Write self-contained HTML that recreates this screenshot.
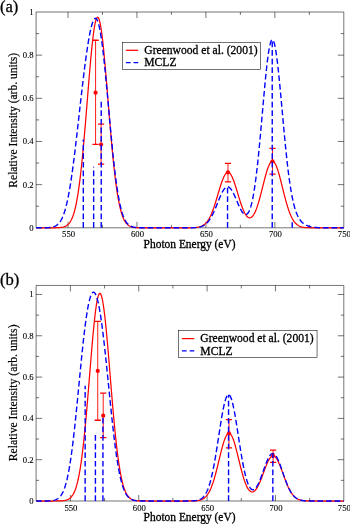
<!DOCTYPE html>
<html><head><meta charset="utf-8"><title>Relative Intensity vs Photon Energy</title>
<style>
html,body{margin:0;padding:0;background:#fff;}
body{width:350px;height:524px;overflow:hidden;}
svg{display:block;will-change:transform;}
text{stroke:#000;stroke-width:0.3px;}
text.t{stroke-width:0.1px;}
text.r{stroke-width:0.2px;}
svg{font-family:"Liberation Serif","DejaVu Serif",serif;fill:#000;}
</style></head><body>
<svg width="350" height="524" viewBox="0 0 350 524">
<rect x="0" y="0" width="350" height="524" fill="#fff"/>
<g id="panel-a">
<clipPath id="ca"><rect x="36.1" y="10" width="308.7" height="219.3"/></clipPath>
<path d="M36.1 12H343.8V227.8H36.1ZM68 227.8v-6M68 12v6M102.47 227.8v-3M102.47 12v3M136.95 227.8v-6M136.95 12v6M171.43 227.8v-3M171.43 12v3M205.9 227.8v-6M205.9 12v6M240.38 227.8v-3M240.38 12v3M274.85 227.8v-6M274.85 12v6M309.32 227.8v-3M309.32 12v3M36.1 206.22h3M343.8 206.22h-3M36.1 184.64h6M343.8 184.64h-6M36.1 163.06h3M343.8 163.06h-3M36.1 141.48h6M343.8 141.48h-6M36.1 119.9h3M343.8 119.9h-3M36.1 98.32h6M343.8 98.32h-6M36.1 76.74h3M343.8 76.74h-3M36.1 55.16h6M343.8 55.16h-6M36.1 33.58h3M343.8 33.58h-3" fill="none" stroke="#000" stroke-width="0.55"/>
<g clip-path="url(#ca)">
<polyline points="36.1,227.8 36.87,227.8 37.64,227.8 38.41,227.8 39.18,227.8 39.95,227.8 40.72,227.8 41.48,227.8 42.25,227.8 43.02,227.8 43.79,227.8 44.56,227.8 45.33,227.8 46.1,227.8 46.87,227.8 47.64,227.8 48.41,227.8 49.18,227.8 49.95,227.8 50.72,227.79 51.48,227.79 52.25,227.79 53.02,227.78 53.79,227.78 54.56,227.77 55.33,227.76 56.1,227.74 56.87,227.73 57.64,227.7 58.41,227.66 59.18,227.62 59.95,227.56 60.72,227.48 61.49,227.39 62.25,227.26 63.02,227.1 63.79,226.9 64.56,226.65 65.33,226.33 66.1,225.94 66.87,225.46 67.64,224.87 68.41,224.16 69.18,223.3 69.95,222.27 70.72,221.04 71.49,219.58 72.25,217.86 73.02,215.86 73.79,213.54 74.56,210.86 75.33,207.8 76.1,204.32 76.87,200.38 77.64,195.98 78.41,191.07 79.18,185.65 79.95,179.7 80.72,173.23 81.49,166.24 82.25,158.75 83.02,150.78 83.79,142.38 84.56,133.59 85.33,124.49 86.1,115.15 86.87,105.65 87.64,96.1 88.41,86.6 89.18,77.25 89.95,68.19 90.72,59.53 91.49,51.39 92.26,43.88 93.02,37.12 93.79,31.21 94.56,26.25 95.33,22.31 96.1,19.45 96.87,17.72 97.64,17.14 98.41,17.74 99.18,19.48 99.95,22.36 100.72,26.31 101.49,31.27 102.26,37.17 103.02,43.91 103.79,51.39 104.56,59.49 105.33,68.11 106.1,77.11 106.87,86.39 107.64,95.83 108.41,105.32 109.18,114.75 109.95,124.02 110.72,133.06 111.49,141.79 112.26,150.14 113.02,158.07 113.79,165.54 114.56,172.51 115.33,178.97 116.1,184.91 116.87,190.34 117.64,195.27 118.41,199.7 119.18,203.66 119.95,207.18 120.72,210.28 121.49,213 122.26,215.37 123.03,217.42 123.79,219.17 124.56,220.67 125.33,221.95 126.1,223.02 126.87,223.92 127.64,224.66 128.41,225.28 129.18,225.79 129.95,226.2 130.72,226.54 131.49,226.81 132.26,227.03 133.03,227.2 133.79,227.34 134.56,227.44 135.33,227.53 136.1,227.59 136.87,227.64 137.64,227.68 138.41,227.71 139.18,227.74 139.95,227.75 140.72,227.77 141.49,227.77 142.26,227.78 143.03,227.79 143.79,227.79 144.56,227.79 145.33,227.8 146.1,227.8 146.87,227.8 147.64,227.8 148.41,227.8 149.18,227.8 149.95,227.8 150.72,227.8 151.49,227.8 152.26,227.8 153.03,227.8 153.8,227.8 154.56,227.8 155.33,227.8 156.1,227.8 156.87,227.8 157.64,227.8 158.41,227.8 159.18,227.8 159.95,227.8 160.72,227.8 161.49,227.8 162.26,227.8 163.03,227.8 163.8,227.8 164.56,227.8 165.33,227.8 166.1,227.8 166.87,227.8 167.64,227.8 168.41,227.8 169.18,227.8 169.95,227.8 170.72,227.8 171.49,227.8 172.26,227.8 173.03,227.8 173.8,227.8 174.56,227.8 175.33,227.8 176.1,227.8 176.87,227.8 177.64,227.8 178.41,227.8 179.18,227.8 179.95,227.8 180.72,227.8 181.49,227.8 182.26,227.8 183.03,227.8 183.8,227.8 184.57,227.8 185.33,227.79 186.1,227.79 186.87,227.79 187.64,227.78 188.41,227.78 189.18,227.77 189.95,227.76 190.72,227.75 191.49,227.73 192.26,227.71 193.03,227.68 193.8,227.65 194.57,227.6 195.33,227.54 196.1,227.47 196.87,227.38 197.64,227.26 198.41,227.12 199.18,226.95 199.95,226.74 200.72,226.49 201.49,226.18 202.26,225.82 203.03,225.39 203.8,224.89 204.57,224.3 205.33,223.61 206.1,222.82 206.87,221.92 207.64,220.89 208.41,219.74 209.18,218.45 209.95,217.01 210.72,215.43 211.49,213.7 212.26,211.82 213.03,209.8 213.8,207.65 214.57,205.38 215.34,202.99 216.1,200.52 216.87,197.98 217.64,195.4 218.41,192.8 219.18,190.22 219.95,187.69 220.72,185.24 221.49,182.91 222.26,180.74 223.03,178.75 223.8,176.99 224.57,175.48 225.34,174.24 226.1,173.3 226.87,172.67 227.64,172.37 228.41,172.39 229.18,172.75 229.95,173.43 230.72,174.41 231.49,175.7 232.26,177.25 233.03,179.04 233.8,181.05 234.57,183.24 235.34,185.58 236.1,188.02 236.87,190.53 237.64,193.08 238.41,195.64 239.18,198.16 239.95,200.62 240.72,202.99 241.49,205.24 242.26,207.36 243.03,209.32 243.8,211.1 244.57,212.7 245.34,214.1 246.11,215.28 246.87,216.25 247.64,217 248.41,217.52 249.18,217.8 249.95,217.86 250.72,217.67 251.49,217.24 252.26,216.57 253.03,215.66 253.8,214.52 254.57,213.13 255.34,211.51 256.11,209.67 256.87,207.6 257.64,205.34 258.41,202.88 259.18,200.25 259.95,197.47 260.72,194.57 261.49,191.57 262.26,188.52 263.03,185.44 263.8,182.38 264.57,179.37 265.34,176.47 266.11,173.71 266.87,171.13 267.64,168.78 268.41,166.7 269.18,164.92 269.95,163.48 270.72,162.39 271.49,161.67 272.26,161.35 273.03,161.42 273.8,161.89 274.57,162.74 275.34,163.97 276.11,165.54 276.88,167.44 277.64,169.62 278.41,172.07 279.18,174.72 279.95,177.55 280.72,180.52 281.49,183.57 282.26,186.67 283.03,189.78 283.8,192.87 284.57,195.9 285.34,198.83 286.11,201.66 286.88,204.35 287.64,206.89 288.41,209.26 289.18,211.46 289.95,213.49 290.72,215.34 291.49,217.01 292.26,218.52 293.03,219.86 293.8,221.05 294.57,222.1 295.34,223.01 296.11,223.8 296.88,224.48 297.65,225.06 298.41,225.55 299.18,225.97 299.95,226.31 300.72,226.6 301.49,226.84 302.26,227.04 303.03,227.2 303.8,227.32 304.57,227.43 305.34,227.51 306.11,227.58 306.88,227.63 307.65,227.67 308.41,227.7 309.18,227.72 309.95,227.74 310.72,227.76 311.49,227.77 312.26,227.78 313.03,227.78 313.8,227.79 314.57,227.79 315.34,227.79 316.11,227.8 316.88,227.8 317.65,227.8 318.41,227.8 319.18,227.8 319.95,227.8 320.72,227.8 321.49,227.8 322.26,227.8 323.03,227.8 323.8,227.8 324.57,227.8 325.34,227.8 326.11,227.8 326.88,227.8 327.65,227.8 328.42,227.8 329.18,227.8 329.95,227.8 330.72,227.8 331.49,227.8 332.26,227.8 333.03,227.8 333.8,227.8 334.57,227.8 335.34,227.8 336.11,227.8 336.88,227.8 337.65,227.8 338.42,227.8 339.18,227.8 339.95,227.8 340.72,227.8 341.49,227.8 342.26,227.8 343.03,227.8 343.8,227.8" fill="none" stroke="#f00" stroke-width="1.25" stroke-linejoin="round"/>
<polyline points="36.1,227.8 36.87,227.8 37.64,227.8 38.41,227.8 39.18,227.8 39.95,227.79 40.72,227.79 41.48,227.79 42.25,227.78 43.02,227.78 43.79,227.77 44.56,227.75 45.33,227.74 46.1,227.72 46.87,227.69 47.64,227.65 48.41,227.61 49.18,227.55 49.95,227.47 50.72,227.38 51.48,227.26 52.25,227.1 53.02,226.92 53.79,226.68 54.56,226.4 55.33,226.05 56.1,225.63 56.87,225.12 57.64,224.51 58.41,223.79 59.18,222.93 59.95,221.93 60.72,220.76 61.49,219.4 62.25,217.84 63.02,216.06 63.79,214.03 64.56,211.74 65.33,209.18 66.1,206.32 66.87,203.15 67.64,199.67 68.41,195.86 69.18,191.73 69.95,187.28 70.72,182.5 71.49,177.41 72.25,172.03 73.02,166.36 73.79,160.44 74.56,154.29 75.33,147.93 76.1,141.4 76.87,134.74 77.64,127.97 78.41,121.14 79.18,114.28 79.95,107.42 80.72,100.61 81.49,93.87 82.25,87.23 83.02,80.74 83.79,74.41 84.56,68.27 85.33,62.36 86.1,56.69 86.87,51.29 87.64,46.2 88.41,41.43 89.18,37.01 89.95,32.98 90.72,29.37 91.49,26.2 92.26,23.52 93.02,21.36 93.79,19.74 94.56,18.72 95.33,18.31 96.1,18.54 96.87,19.44 97.64,21.03 98.41,23.32 99.18,26.31 99.95,29.99 100.72,34.36 101.49,39.39 102.26,45.04 103.02,51.27 103.79,58.03 104.56,65.26 105.33,72.89 106.1,80.85 106.87,89.06 107.64,97.45 108.41,105.93 109.18,114.43 109.95,122.87 110.72,131.18 111.49,139.29 112.26,147.14 113.02,154.69 113.79,161.88 114.56,168.69 115.33,175.08 116.1,181.04 116.87,186.55 117.64,191.61 118.41,196.23 119.18,200.41 119.95,204.17 120.72,207.53 121.49,210.51 122.26,213.13 123.03,215.43 123.79,217.43 124.56,219.15 125.33,220.63 126.1,221.89 126.87,222.96 127.64,223.86 128.41,224.61 129.18,225.23 129.95,225.74 130.72,226.16 131.49,226.5 132.26,226.78 133.03,227 133.79,227.18 134.56,227.32 135.33,227.43 136.1,227.52 136.87,227.59 137.64,227.64 138.41,227.68 139.18,227.71 139.95,227.73 140.72,227.75 141.49,227.76 142.26,227.77 143.03,227.78 143.79,227.79 144.56,227.79 145.33,227.79 146.1,227.8 146.87,227.8 147.64,227.8 148.41,227.8 149.18,227.8 149.95,227.8 150.72,227.8 151.49,227.8 152.26,227.8 153.03,227.8 153.8,227.8 154.56,227.8 155.33,227.8 156.1,227.8 156.87,227.8 157.64,227.8 158.41,227.8 159.18,227.8 159.95,227.8 160.72,227.8 161.49,227.8 162.26,227.8 163.03,227.8 163.8,227.8 164.56,227.8 165.33,227.8 166.1,227.8 166.87,227.8 167.64,227.8 168.41,227.8 169.18,227.8 169.95,227.8 170.72,227.8 171.49,227.8 172.26,227.8 173.03,227.8 173.8,227.8 174.56,227.8 175.33,227.8 176.1,227.8 176.87,227.8 177.64,227.8 178.41,227.8 179.18,227.8 179.95,227.8 180.72,227.8 181.49,227.8 182.26,227.8 183.03,227.8 183.8,227.8 184.57,227.8 185.33,227.79 186.1,227.79 186.87,227.79 187.64,227.79 188.41,227.78 189.18,227.78 189.95,227.77 190.72,227.76 191.49,227.74 192.26,227.72 193.03,227.7 193.8,227.67 194.57,227.63 195.33,227.58 196.1,227.52 196.87,227.44 197.64,227.35 198.41,227.23 199.18,227.09 199.95,226.92 200.72,226.71 201.49,226.47 202.26,226.17 203.03,225.83 203.8,225.42 204.57,224.95 205.33,224.4 206.1,223.77 206.87,223.06 207.64,222.25 208.41,221.34 209.18,220.33 209.95,219.21 210.72,217.98 211.49,216.64 212.26,215.2 213.03,213.65 213.8,212.01 214.57,210.28 215.34,208.48 216.1,206.63 216.87,204.73 217.64,202.81 218.41,200.89 219.18,199 219.95,197.16 220.72,195.4 221.49,193.73 222.26,192.2 223.03,190.82 223.8,189.61 224.57,188.6 225.34,187.8 226.1,187.22 226.87,186.89 227.64,186.79 228.41,186.94 229.18,187.33 229.95,187.95 230.72,188.79 231.49,189.84 232.26,191.08 233.03,192.48 233.8,194.02 234.57,195.67 235.34,197.41 236.1,199.2 236.87,201.01 237.64,202.83 238.41,204.61 239.18,206.32 239.95,207.95 240.72,209.46 241.49,210.82 242.26,212.02 243.03,213.02 243.8,213.8 244.57,214.34 245.34,214.61 246.11,214.59 246.87,214.26 247.64,213.58 248.41,212.53 249.18,211.09 249.95,209.22 250.72,206.91 251.49,204.14 252.26,200.87 253.03,197.09 253.8,192.78 254.57,187.95 255.34,182.57 256.11,176.66 256.87,170.24 257.64,163.32 258.41,155.95 259.18,148.16 259.95,140.01 260.72,131.58 261.49,122.95 262.26,114.2 263.03,105.45 263.8,96.79 264.57,88.35 265.34,80.24 266.11,72.57 266.87,65.48 267.64,59.06 268.41,53.43 269.18,48.67 269.95,44.86 270.72,42.08 271.49,40.36 272.26,39.73 273.03,40.21 273.8,41.78 274.57,44.41 275.34,48.06 276.11,52.65 276.88,58.1 277.64,64.32 278.41,71.21 279.18,78.65 279.95,86.53 280.72,94.73 281.49,103.14 282.26,111.64 283.03,120.13 283.8,128.52 284.57,136.72 285.34,144.65 286.11,152.25 286.88,159.47 287.64,166.26 288.41,172.62 289.18,178.51 289.95,183.93 290.72,188.88 291.49,193.38 292.26,197.44 293.03,201.09 293.8,204.34 294.57,207.23 295.34,209.79 296.11,212.04 296.88,214.02 297.65,215.76 298.41,217.28 299.18,218.61 299.95,219.77 300.72,220.78 301.49,221.67 302.26,222.44 303.03,223.12 303.8,223.72 304.57,224.24 305.34,224.7 306.11,225.1 306.88,225.46 307.65,225.77 308.41,226.05 309.18,226.29 309.95,226.51 310.72,226.7 311.49,226.86 312.26,227 313.03,227.13 313.8,227.23 314.57,227.33 315.34,227.41 316.11,227.47 316.88,227.53 317.65,227.58 318.41,227.62 319.18,227.65 319.95,227.68 320.72,227.71 321.49,227.72 322.26,227.74 323.03,227.75 323.8,227.76 324.57,227.77 325.34,227.78 326.11,227.78 326.88,227.79 327.65,227.79 328.42,227.79 329.18,227.79 329.95,227.8 330.72,227.8 331.49,227.8 332.26,227.8 333.03,227.8 333.8,227.8 334.57,227.8 335.34,227.8 336.11,227.8 336.88,227.8 337.65,227.8 338.42,227.8 339.18,227.8 339.95,227.8 340.72,227.8 341.49,227.8 342.26,227.8 343.03,227.8 343.8,227.8" fill="none" stroke="#00f" stroke-width="1.4" stroke-dasharray="5.7 2.9" stroke-linejoin="round"/>
</g>
<path d="M95.58 40.27V144.29" stroke="#f00" stroke-width="0.9" fill="none"/>
<path d="M92.48 40.27H98.68M92.48 144.29H98.68" stroke="#f00" stroke-width="1.3" fill="none"/>
<path d="M101.1 124.22V164.05" stroke="#f00" stroke-width="0.9" fill="none"/>
<path d="M98 124.22H104.2M98 164.05H104.2" stroke="#f00" stroke-width="1.3" fill="none"/>
<path d="M227.96 163.28V181.83" stroke="#f00" stroke-width="0.9" fill="none"/>
<path d="M224.86 163.28H231.06M224.86 181.83H231.06" stroke="#f00" stroke-width="1.3" fill="none"/>
<path d="M272.51 148.39V174.07" stroke="#f00" stroke-width="0.9" fill="none"/>
<path d="M269.41 148.39H275.61M269.41 174.07H275.61" stroke="#f00" stroke-width="1.3" fill="none"/>
<circle cx="95.58" cy="92.71" r="2.1" fill="#f00"/>
<circle cx="101.1" cy="144.5" r="2.1" fill="#f00"/>
<circle cx="227.96" cy="172.34" r="2.1" fill="#f00"/>
<circle cx="272.51" cy="161.33" r="2.1" fill="#f00"/>
<line x1="83.31" y1="227.8" x2="83.31" y2="139.54" stroke="#00f" stroke-width="1.4" stroke-dasharray="5.7 2.9"/>
<line x1="93.65" y1="227.8" x2="93.65" y2="166.73" stroke="#00f" stroke-width="1.4" stroke-dasharray="5.7 2.9"/>
<line x1="101.23" y1="227.8" x2="101.23" y2="101.56" stroke="#00f" stroke-width="1.4" stroke-dasharray="5.7 2.9"/>
<line x1="227.55" y1="227.8" x2="227.55" y2="186.8" stroke="#00f" stroke-width="1.4" stroke-dasharray="5.7 2.9"/>
<line x1="272.23" y1="227.8" x2="272.23" y2="40.49" stroke="#00f" stroke-width="1.4" stroke-dasharray="5.7 2.9"/>
<line x1="292.23" y1="227.8" x2="292.23" y2="222.19" stroke="#00f" stroke-width="1.4" stroke-dasharray="5.7 2.9"/>
<text transform="translate(68.55 237.1) scale(0.966 1)" font-size="9" text-anchor="middle" class="t">550</text>
<text transform="translate(137.5 237.1) scale(0.966 1)" font-size="9" text-anchor="middle" class="t">600</text>
<text transform="translate(206.45 237.1) scale(0.966 1)" font-size="9" text-anchor="middle" class="t">650</text>
<text transform="translate(275.4 237.1) scale(0.966 1)" font-size="9" text-anchor="middle" class="t">700</text>
<text transform="translate(344.35 237.1) scale(0.966 1)" font-size="9" text-anchor="middle" class="t">750</text>
<text transform="translate(33.7 230.8) scale(0.966 1)" font-size="9" text-anchor="end" class="t">0</text>
<text transform="translate(33.7 187.64) scale(0.966 1)" font-size="9" text-anchor="end" class="t">0.2</text>
<text transform="translate(33.7 144.48) scale(0.966 1)" font-size="9" text-anchor="end" class="t">0.4</text>
<text transform="translate(33.7 101.32) scale(0.966 1)" font-size="9" text-anchor="end" class="t">0.6</text>
<text transform="translate(33.7 58.16) scale(0.966 1)" font-size="9" text-anchor="end" class="t">0.8</text>
<text transform="translate(33.7 15) scale(0.966 1)" font-size="9" text-anchor="end" class="t">1</text>
<text transform="translate(143.6 248.2) scale(0.979 1)" font-size="11.7">Photon Energy (eV)</text>
<text transform="translate(17.25 120.25) rotate(-90) scale(0.979 1)" font-size="11.76" text-anchor="middle" class="r">Relative Intensity (arb. units)</text>
<rect x="122.4" y="42.3" width="138.3" height="27" fill="#fff" stroke="#000" stroke-width="0.55"/>
<line x1="125.9" y1="50.3" x2="138.2" y2="50.3" stroke="#f00" stroke-width="1.25"/>
<line x1="125.9" y1="62.6" x2="138.2" y2="62.6" stroke="#00f" stroke-width="1.4" stroke-dasharray="4.7 3.0"/>
<text transform="translate(144.3 53.9) scale(0.979 1)" font-size="11.85">Greenwood et al. (2001)</text>
<text transform="translate(144.3 66.25) scale(0.979 1)" font-size="11.85">MCLZ</text>
<text transform="translate(-0.1 12.3) scale(0.968 1)" font-size="17.2">(a)</text>
</g>
<g id="panel-b">
<clipPath id="cb"><rect x="36.1" y="283.45" width="308.7" height="219.05"/></clipPath>
<path d="M36.1 285.45H343.8V501H36.1ZM70.4 501v-6M70.4 285.45v6M104.57 501v-3M104.57 285.45v3M138.75 501v-6M138.75 285.45v6M172.92 501v-3M172.92 285.45v3M207.09 501v-6M207.09 285.45v6M241.26 501v-3M241.26 285.45v3M275.44 501v-6M275.44 285.45v6M309.61 501v-3M309.61 285.45v3M36.1 480.35h3M343.8 480.35h-3M36.1 459.69h6M343.8 459.69h-6M36.1 439.04h3M343.8 439.04h-3M36.1 418.38h6M343.8 418.38h-6M36.1 397.73h3M343.8 397.73h-3M36.1 377.08h6M343.8 377.08h-6M36.1 356.42h3M343.8 356.42h-3M36.1 335.77h6M343.8 335.77h-6M36.1 315.11h3M343.8 315.11h-3M36.1 294.46h6M343.8 294.46h-6" fill="none" stroke="#000" stroke-width="0.55"/>
<g clip-path="url(#cb)">
<polyline points="36.1,501 36.87,501 37.64,501 38.41,501 39.18,501 39.95,501 40.72,501 41.48,501 42.25,501 43.02,501 43.79,501 44.56,501 45.33,501 46.1,501 46.87,501 47.64,501 48.41,501 49.18,501 49.95,501 50.72,501 51.49,501 52.25,501 53.02,501 53.79,500.99 54.56,500.99 55.33,500.99 56.1,500.98 56.87,500.97 57.64,500.96 58.41,500.95 59.18,500.93 59.95,500.91 60.72,500.88 61.49,500.84 62.25,500.78 63.02,500.71 63.79,500.62 64.56,500.5 65.33,500.35 66.1,500.16 66.87,499.93 67.64,499.63 68.41,499.26 69.18,498.8 69.95,498.24 70.72,497.56 71.49,496.73 72.25,495.74 73.02,494.55 73.79,493.14 74.56,491.48 75.33,489.54 76.1,487.28 76.87,484.67 77.64,481.67 78.41,478.26 79.18,474.41 79.95,470.08 80.72,465.25 81.49,459.91 82.25,454.04 83.02,447.65 83.79,440.73 84.56,433.32 85.33,425.42 86.1,417.09 86.87,408.37 87.64,399.33 88.41,390.05 89.18,380.62 89.95,371.13 90.72,361.68 91.49,352.4 92.26,343.41 93.02,334.81 93.79,326.74 94.56,319.31 95.33,312.64 96.1,306.83 96.87,301.96 97.64,298.13 98.41,295.38 99.18,293.77 99.95,293.32 100.72,294.04 101.49,295.92 102.26,298.92 103.02,302.99 103.79,308.06 104.56,314.06 105.33,320.89 106.1,328.44 106.87,336.6 107.64,345.24 108.41,354.26 109.18,363.53 109.95,372.94 110.72,382.37 111.49,391.72 112.26,400.89 113.02,409.81 113.79,418.4 114.56,426.6 115.33,434.37 116.1,441.65 116.87,448.44 117.64,454.71 118.41,460.47 119.18,465.71 119.95,470.44 120.72,474.69 121.49,478.48 122.26,481.83 123.03,484.77 123.79,487.34 124.56,489.57 125.33,491.49 126.1,493.13 126.87,494.53 127.64,495.7 128.41,496.69 129.18,497.52 129.95,498.2 130.72,498.76 131.49,499.22 132.26,499.59 133.03,499.9 133.79,500.14 134.56,500.33 135.33,500.48 136.1,500.6 136.87,500.7 137.64,500.77 138.41,500.83 139.18,500.87 139.95,500.9 140.72,500.93 141.49,500.95 142.26,500.96 143.03,500.97 143.79,500.98 144.56,500.99 145.33,500.99 146.1,500.99 146.87,500.99 147.64,501 148.41,501 149.18,501 149.95,501 150.72,501 151.49,501 152.26,501 153.03,501 153.8,501 154.56,501 155.33,501 156.1,501 156.87,501 157.64,501 158.41,501 159.18,501 159.95,501 160.72,501 161.49,501 162.26,501 163.03,501 163.8,501 164.56,501 165.33,501 166.1,501 166.87,501 167.64,501 168.41,501 169.18,501 169.95,501 170.72,501 171.49,501 172.26,501 173.03,501 173.8,501 174.56,501 175.33,501 176.1,501 176.87,501 177.64,501 178.41,501 179.18,501 179.95,501 180.72,501 181.49,501 182.26,501 183.03,501 183.8,501 184.57,501 185.33,501 186.1,500.99 186.87,500.99 187.64,500.99 188.41,500.99 189.18,500.98 189.95,500.97 190.72,500.96 191.49,500.95 192.26,500.93 193.03,500.91 193.8,500.88 194.57,500.84 195.33,500.8 196.1,500.73 196.87,500.66 197.64,500.56 198.41,500.44 199.18,500.29 199.95,500.1 200.72,499.87 201.49,499.59 202.26,499.26 203.03,498.86 203.8,498.38 204.57,497.81 205.33,497.14 206.1,496.37 206.87,495.47 207.64,494.43 208.41,493.25 209.18,491.91 209.95,490.41 210.72,488.73 211.49,486.87 212.26,484.83 213.03,482.6 213.8,480.2 214.57,477.62 215.34,474.88 216.1,472 216.87,469 217.64,465.9 218.41,462.74 219.18,459.54 219.95,456.35 220.72,453.2 221.49,450.14 222.26,447.21 223.03,444.46 223.8,441.92 224.57,439.65 225.34,437.67 226.1,436.03 226.87,434.75 227.64,433.85 228.41,433.36 229.18,433.27 229.95,433.59 230.72,434.32 231.49,435.44 232.26,436.93 233.03,438.76 233.8,440.91 234.57,443.33 235.34,445.99 236.1,448.83 236.87,451.83 237.64,454.93 238.41,458.09 239.18,461.26 239.95,464.41 240.72,467.49 241.49,470.48 242.26,473.34 243.03,476.04 243.8,478.58 244.57,480.91 245.34,483.04 246.11,484.96 246.87,486.64 247.64,488.1 248.41,489.32 249.18,490.32 249.95,491.07 250.72,491.6 251.49,491.91 252.26,491.99 253.03,491.85 253.8,491.5 254.57,490.94 255.34,490.19 256.11,489.24 256.87,488.1 257.64,486.8 258.41,485.33 259.18,483.71 259.95,481.96 260.72,480.1 261.49,478.15 262.26,476.12 263.03,474.05 263.8,471.96 264.57,469.88 265.34,467.84 266.11,465.87 266.87,464 267.64,462.26 268.41,460.68 269.18,459.29 269.95,458.11 270.72,457.17 271.49,456.47 272.26,456.03 273.03,455.87 273.8,455.98 274.57,456.36 275.34,457 276.11,457.9 276.88,459.04 277.64,460.39 278.41,461.94 279.18,463.65 279.95,465.51 280.72,467.48 281.49,469.53 282.26,471.64 283.03,473.77 283.8,475.89 284.57,478 285.34,480.05 286.11,482.04 286.88,483.94 287.64,485.74 288.41,487.44 289.18,489.02 289.95,490.48 290.72,491.82 291.49,493.04 292.26,494.13 293.03,495.11 293.8,495.99 294.57,496.76 295.34,497.43 296.11,498.01 296.88,498.52 297.64,498.95 298.41,499.31 299.18,499.62 299.95,499.88 300.72,500.1 301.49,500.28 302.26,500.42 303.03,500.54 303.8,500.64 304.57,500.72 305.34,500.78 306.11,500.83 306.88,500.87 307.65,500.9 308.41,500.92 309.18,500.94 309.95,500.96 310.72,500.97 311.49,500.98 312.26,500.98 313.03,500.99 313.8,500.99 314.57,500.99 315.34,501 316.11,501 316.88,501 317.65,501 318.41,501 319.18,501 319.95,501 320.72,501 321.49,501 322.26,501 323.03,501 323.8,501 324.57,501 325.34,501 326.11,501 326.88,501 327.65,501 328.41,501 329.18,501 329.95,501 330.72,501 331.49,501 332.26,501 333.03,501 333.8,501 334.57,501 335.34,501 336.11,501 336.88,501 337.65,501 338.42,501 339.18,501 339.95,501 340.72,501 341.49,501 342.26,501 343.03,501 343.8,501" fill="none" stroke="#f00" stroke-width="1.25" stroke-linejoin="round"/>
<polyline points="36.1,501 36.87,501 37.64,501 38.41,501 39.18,501 39.95,501 40.72,501 41.48,500.99 42.25,500.99 43.02,500.99 43.79,500.98 44.56,500.98 45.33,500.97 46.1,500.96 46.87,500.94 47.64,500.93 48.41,500.9 49.18,500.87 49.95,500.82 50.72,500.76 51.49,500.69 52.25,500.59 53.02,500.47 53.79,500.32 54.56,500.13 55.33,499.89 56.1,499.59 56.87,499.22 57.64,498.77 58.41,498.22 59.18,497.56 59.95,496.77 60.72,495.83 61.49,494.71 62.25,493.4 63.02,491.86 63.79,490.08 64.56,488.03 65.33,485.68 66.1,483.01 66.87,480 67.64,476.62 68.41,472.86 69.18,468.7 69.95,464.13 70.72,459.15 71.49,453.77 72.25,447.97 73.02,441.79 73.79,435.24 74.56,428.35 75.33,421.16 76.1,413.7 76.87,406.03 77.64,398.2 78.41,390.26 79.18,382.29 79.95,374.33 80.72,366.47 81.49,358.75 82.25,351.24 83.02,344 83.79,337.08 84.56,330.54 85.33,324.42 86.1,318.77 86.87,313.6 87.64,308.96 88.41,304.86 89.18,301.32 89.95,298.35 90.72,295.96 91.49,294.15 92.26,292.92 93.02,292.28 93.79,292.22 94.56,292.73 95.33,293.82 96.1,295.46 96.87,297.66 97.64,300.41 98.41,303.69 99.18,307.49 99.95,311.79 100.72,316.58 101.49,321.83 102.26,327.52 103.02,333.6 103.79,340.05 104.56,346.83 105.33,353.89 106.1,361.17 106.87,368.64 107.64,376.23 108.41,383.89 109.18,391.56 109.95,399.2 110.72,406.73 111.49,414.12 112.26,421.31 113.02,428.26 113.79,434.94 114.56,441.3 115.33,447.32 116.1,452.99 116.87,458.28 117.64,463.19 118.41,467.71 119.18,471.85 119.95,475.61 120.72,479.01 121.49,482.05 122.26,484.77 123.03,487.17 123.79,489.29 124.56,491.13 125.33,492.74 126.1,494.12 126.87,495.3 127.64,496.31 128.41,497.16 129.18,497.87 129.95,498.47 130.72,498.96 131.49,499.37 132.26,499.7 133.03,499.98 133.79,500.2 134.56,500.37 135.33,500.51 136.1,500.62 136.87,500.71 137.64,500.78 138.41,500.83 139.18,500.87 139.95,500.91 140.72,500.93 141.49,500.95 142.26,500.96 143.03,500.97 143.79,500.98 144.56,500.99 145.33,500.99 146.1,500.99 146.87,500.99 147.64,501 148.41,501 149.18,501 149.95,501 150.72,501 151.49,501 152.26,501 153.03,501 153.8,501 154.56,501 155.33,501 156.1,501 156.87,501 157.64,501 158.41,501 159.18,501 159.95,501 160.72,501 161.49,501 162.26,501 163.03,501 163.8,501 164.56,501 165.33,501 166.1,501 166.87,501 167.64,501 168.41,501 169.18,501 169.95,501 170.72,501 171.49,501 172.26,501 173.03,501 173.8,501 174.56,501 175.33,501 176.1,501 176.87,501 177.64,501 178.41,501 179.18,501 179.95,501 180.72,501 181.49,501 182.26,501 183.03,501 183.8,501 184.57,500.99 185.33,500.99 186.1,500.99 186.87,500.99 187.64,500.98 188.41,500.97 189.18,500.96 189.95,500.95 190.72,500.93 191.49,500.91 192.26,500.88 193.03,500.84 193.8,500.78 194.57,500.72 195.33,500.63 196.1,500.52 196.87,500.38 197.64,500.21 198.41,500 199.18,499.73 199.95,499.4 200.72,499.01 201.49,498.52 202.26,497.94 203.03,497.25 203.8,496.42 204.57,495.45 205.33,494.32 206.1,493 206.87,491.47 207.64,489.73 208.41,487.74 209.18,485.5 209.95,483 210.72,480.21 211.49,477.14 212.26,473.78 213.03,470.13 213.8,466.21 214.57,462.03 215.34,457.61 216.1,452.98 216.87,448.18 217.64,443.25 218.41,438.25 219.18,433.22 219.95,428.24 220.72,423.36 221.49,418.66 222.26,414.2 223.03,410.05 223.8,406.28 224.57,402.96 225.34,400.13 226.1,397.85 226.87,396.15 227.64,395.08 228.41,394.64 229.18,394.85 229.95,395.69 230.72,397.17 231.49,399.24 232.26,401.87 233.03,405.02 233.8,408.63 234.57,412.65 235.34,416.99 236.1,421.6 236.87,426.41 237.64,431.35 238.41,436.34 239.18,441.33 239.95,446.24 240.72,451.04 241.49,455.67 242.26,460.08 243.03,464.25 243.8,468.13 244.57,471.72 245.34,474.99 246.11,477.93 246.87,480.54 247.64,482.81 248.41,484.75 249.18,486.36 249.95,487.65 250.72,488.62 251.49,489.29 252.26,489.67 253.03,489.76 253.8,489.58 254.57,489.15 255.34,488.47 256.11,487.56 256.87,486.43 257.64,485.1 258.41,483.59 259.18,481.9 259.95,480.08 260.72,478.12 261.49,476.07 262.26,473.95 263.03,471.78 263.8,469.59 264.57,467.43 265.34,465.31 266.11,463.28 266.87,461.37 267.64,459.6 268.41,458.01 269.18,456.62 269.95,455.47 270.72,454.56 271.49,453.93 272.26,453.57 273.03,453.5 273.8,453.72 274.57,454.22 275.34,454.99 276.11,456.03 276.88,457.31 277.64,458.81 278.41,460.5 279.18,462.37 279.95,464.37 280.72,466.47 281.49,468.66 282.26,470.89 283.03,473.13 283.8,475.36 284.57,477.56 285.34,479.7 286.11,481.76 286.88,483.73 287.64,485.59 288.41,487.33 289.18,488.95 289.95,490.44 290.72,491.81 291.49,493.04 292.26,494.15 293.03,495.14 293.8,496.02 294.57,496.8 295.34,497.47 296.11,498.05 296.88,498.56 297.64,498.98 298.41,499.35 299.18,499.65 299.95,499.91 300.72,500.12 301.49,500.3 302.26,500.44 303.03,500.56 303.8,500.65 304.57,500.73 305.34,500.79 306.11,500.84 306.88,500.88 307.65,500.91 308.41,500.93 309.18,500.95 309.95,500.96 310.72,500.97 311.49,500.98 312.26,500.98 313.03,500.99 313.8,500.99 314.57,500.99 315.34,501 316.11,501 316.88,501 317.65,501 318.41,501 319.18,501 319.95,501 320.72,501 321.49,501 322.26,501 323.03,501 323.8,501 324.57,501 325.34,501 326.11,501 326.88,501 327.65,501 328.41,501 329.18,501 329.95,501 330.72,501 331.49,501 332.26,501 333.03,501 333.8,501 334.57,501 335.34,501 336.11,501 336.88,501 337.65,501 338.42,501 339.18,501 339.95,501 340.72,501 341.49,501 342.26,501 343.03,501 343.8,501" fill="none" stroke="#00f" stroke-width="1.4" stroke-dasharray="5.7 2.9" stroke-linejoin="round"/>
</g>
<path d="M97.74 321.31V420.24" stroke="#f00" stroke-width="0.9" fill="none"/>
<path d="M94.64 321.31H100.84M94.64 420.24H100.84" stroke="#f00" stroke-width="1.3" fill="none"/>
<path d="M103.21 393.19V437.59" stroke="#f00" stroke-width="0.9" fill="none"/>
<path d="M100.11 393.19H106.31M100.11 437.59H106.31" stroke="#f00" stroke-width="1.3" fill="none"/>
<path d="M228.96 419.62V447.92" stroke="#f00" stroke-width="0.9" fill="none"/>
<path d="M225.86 419.62H232.06M225.86 447.92H232.06" stroke="#f00" stroke-width="1.3" fill="none"/>
<path d="M273.11 450.19V462.38" stroke="#f00" stroke-width="0.9" fill="none"/>
<path d="M270.01 450.19H276.21M270.01 462.38H276.21" stroke="#f00" stroke-width="1.3" fill="none"/>
<circle cx="97.74" cy="370.88" r="2.1" fill="#f00"/>
<circle cx="103.21" cy="415.7" r="2.1" fill="#f00"/>
<circle cx="228.96" cy="433.25" r="2.1" fill="#f00"/>
<circle cx="273.11" cy="455.87" r="2.1" fill="#f00"/>
<line x1="85.16" y1="501" x2="85.16" y2="385.75" stroke="#00f" stroke-width="1.4" stroke-dasharray="5.7 2.9"/>
<line x1="95.41" y1="501" x2="95.41" y2="434.49" stroke="#00f" stroke-width="1.4" stroke-dasharray="5.7 2.9"/>
<line x1="102.93" y1="501" x2="102.93" y2="415.7" stroke="#00f" stroke-width="1.4" stroke-dasharray="5.7 2.9"/>
<line x1="228.55" y1="501" x2="228.55" y2="394.63" stroke="#00f" stroke-width="1.4" stroke-dasharray="5.7 2.9"/>
<line x1="272.84" y1="501" x2="272.84" y2="453.5" stroke="#00f" stroke-width="1.4" stroke-dasharray="5.7 2.9"/>
<text transform="translate(70.95 510.5) scale(0.966 1)" font-size="9" text-anchor="middle" class="t">550</text>
<text transform="translate(139.3 510.5) scale(0.966 1)" font-size="9" text-anchor="middle" class="t">600</text>
<text transform="translate(207.64 510.5) scale(0.966 1)" font-size="9" text-anchor="middle" class="t">650</text>
<text transform="translate(275.99 510.5) scale(0.966 1)" font-size="9" text-anchor="middle" class="t">700</text>
<text transform="translate(344.33 510.5) scale(0.966 1)" font-size="9" text-anchor="middle" class="t">750</text>
<text transform="translate(33.7 504) scale(0.966 1)" font-size="9" text-anchor="end" class="t">0</text>
<text transform="translate(33.7 462.69) scale(0.966 1)" font-size="9" text-anchor="end" class="t">0.2</text>
<text transform="translate(33.7 421.38) scale(0.966 1)" font-size="9" text-anchor="end" class="t">0.4</text>
<text transform="translate(33.7 380.08) scale(0.966 1)" font-size="9" text-anchor="end" class="t">0.6</text>
<text transform="translate(33.7 338.77) scale(0.966 1)" font-size="9" text-anchor="end" class="t">0.8</text>
<text transform="translate(33.7 297.46) scale(0.966 1)" font-size="9" text-anchor="end" class="t">1</text>
<text transform="translate(143.6 521.4) scale(0.979 1)" font-size="11.7">Photon Energy (eV)</text>
<text transform="translate(17.25 392.85) rotate(-90) scale(0.979 1)" font-size="11.93" text-anchor="middle" class="r">Relative Intensity (arb. units)</text>
<rect x="178.45" y="330.6" width="138.6" height="26.8" fill="#fff" stroke="#000" stroke-width="0.55"/>
<line x1="181.95" y1="338.6" x2="194.25" y2="338.6" stroke="#f00" stroke-width="1.25"/>
<line x1="181.95" y1="350.9" x2="194.25" y2="350.9" stroke="#00f" stroke-width="1.4" stroke-dasharray="4.7 3.0"/>
<text transform="translate(200.35 342.2) scale(0.979 1)" font-size="11.85">Greenwood et al. (2001)</text>
<text transform="translate(200.35 354.55) scale(0.979 1)" font-size="11.85">MCLZ</text>
<text transform="translate(-0.1 284.7) scale(0.968 1)" font-size="17.2">(b)</text>
</g>
</svg>
</body></html>
